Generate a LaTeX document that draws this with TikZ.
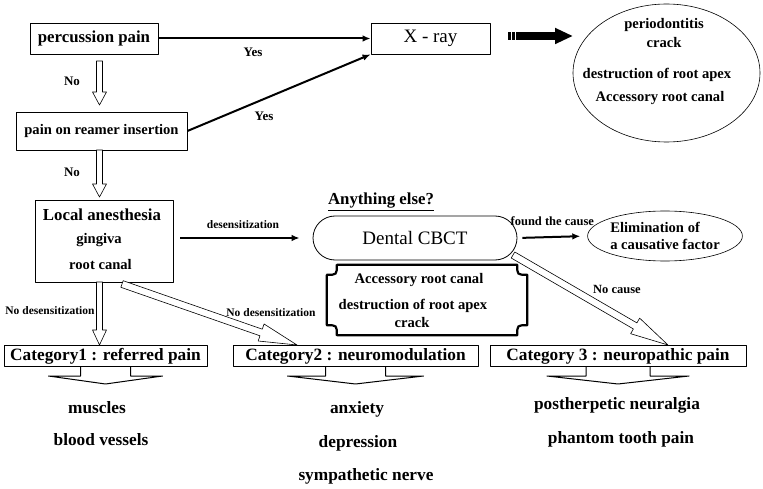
\documentclass[tikz,border=0pt]{standalone}
\usepackage{fontspec}
\setmainfont{Liberation Serif}
\usetikzlibrary{shapes.geometric,arrows.meta,calc}
\begin{document}
\begin{tikzpicture}[x=1pt, y=-1pt, line join=round, >={Latex[length=8pt,width=6.5pt]},
	box/.style={draw, line width=.8pt, inner sep=0pt},
	big/.style={font=\fontsize{16.8}{19}\selectfont\bfseries},
	mid/.style={font=\fontsize{14.6}{17}\selectfont\bfseries},
	lbl/.style={font=\fontsize{13}{15}\selectfont\bfseries},
	tiny/.style={font=\fontsize{11.5}{13}\selectfont\bfseries},
	reg/.style={font=\fontsize{19}{21}\selectfont},
	cat/.style={font=\fontsize{17.3}{19}\selectfont\bfseries},
	arr/.style={->, line width=2pt}]
	\useasboundingbox (0,0) rectangle (763,489);
	% hollow arrow: from, to, shaft half width, head half width, head length
	\def\hollow#1#2#3#4#5{%
		\coordinate (hb) at ($(#2)!#5pt!(#1)$);
		\draw[line width=.6pt, fill=white] ($(#1)!#3pt!90:(#2)$) -- ($(hb)!#3pt!90:(#2)$) -- ($(hb)!#4pt!90:(#2)$) -- (#2)
		-- ($(hb)!#4pt!-90:(#2)$) -- ($(hb)!#3pt!-90:(#2)$) -- ($(#1)!#3pt!-90:(#2)$) -- cycle;}
	% arrow under a category box: node, shaft half width, head half width
	\def\catarrow#1#2#3{%
		\draw[line width=1pt] ($(#1.south)+(-#2,0)$) -- ++(0,9) -- ($(#1.south)+(-#3,9)$) -- ($(#1.south)+(0,17)$)
		-- ($(#1.south)+(#3,9)$) -- ($(#1.south)+(#2,9)$) -- ++(0,-9);}
	\def\r{10}

	% first row
	\node[box, big, minimum width=128pt, minimum height=31pt] (perc) at (94,38.5) {percussion pain};
	\node[box, reg, minimum width=119pt, minimum height=31pt] (xray) at (430.5,38.5) {X - ray};
	\node[draw, ellipse, line width=.6pt, minimum width=187pt, minimum height=138pt] (findings) at (666.5,73) {};
	\node[mid] (f1) at (664,25) {periodontitis};
	\node[mid] (f2) at (664,43) {crack};
	\node[mid] (f3) at (657,75) {destruction of root apex};
	\node[mid] (f4) at (660,98) {Accessory root canal};
	\draw[arr] (perc.east) -- (xray.west);
	\node[lbl] (yes1) at (253,52) {Yes};

	% big dashed arrow
	\coordinate (bs) at ($(xray.east)+(18,-2.5)$);
	\coordinate (be) at (573,36);
	\draw[line width=8pt, dash pattern=on 2.6pt off 1.2pt] (bs) -- ++(10,0);
	\draw[line width=8pt, -{Triangle[length=18pt,width=15pt]}] ($(bs)+(10,0)$) -- (be);

	% second row
	\node[box, mid, minimum width=171pt, minimum height=38pt] (ream) at (101.5,131) {pain on reamer insertion};
	\draw[arr] (ream.east) -- (xray.south west);
	\node[lbl] (yes2) at (264,116) {Yes};
	\coordinate (n1s) at (99.5,61);
	\coordinate (n1e) at (99.5,105);
	\hollow{n1s}{n1e}{3}{7}{13}
	\node[lbl] (no1) at (72,81) {No};

	% local anesthesia
	\node[box, minimum width=138pt, minimum height=82pt] (local) at (104,241) {};
	\node[big] (la) at (102,215) {Local anesthesia};
	\node[mid] (gi) at (99,240) {gingiva};
	\node[mid] (rc) at (100.5,265) {root canal};
	\coordinate (n2s) at (99.5,150);
	\coordinate (n2e) at (99.5,197);
	\hollow{n2s}{n2e}{3}{7}{13}
	\node[lbl] (no2) at (72,172) {No};

	% CBCT
	\node[font=\fontsize{16.8}{19}\selectfont\bfseries] (else) at (381,202) {\underline{Anything else?}};
	\node[box, reg, rounded corners=22pt, minimum width=204pt, minimum height=44pt] (cbct) at (415,238) {Dental CBCT};
	\draw[arr, shorten <=7pt, shorten >=13pt] (local.east |- cbct.west) -- (cbct.west)
		node[tiny, midway, above=5pt] {desensitization};
	\node[draw, ellipse, line width=.6pt, mid, align=left, inner sep=0pt, minimum width=146pt, minimum height=50pt] (elim) at (665,236)
		{Elimination of\\ a causative factor};
	\draw[arr, shorten <=5pt, shorten >=7pt] (cbct.east) -- (elim.west)
		node[font=\fontsize{12.5}{14}\selectfont\bfseries, midway, above=7pt] {found the cause};

	% plaque
	\node[minimum width=200pt, minimum height=70pt] (plaque) at (427,300) {};
	\draw[line width=2.2pt] ($(plaque.north west)+(\r,0)$) -- ($(plaque.north east)+(-\r,0)$)
		.. controls ($(plaque.north east)+(-\r,\r)$) .. ($(plaque.north east)+(0,\r)$)
		-- ($(plaque.south east)+(0,-\r)$)
		.. controls ($(plaque.south east)+(-\r,-\r)$) .. ($(plaque.south east)+(-\r,0)$)
		-- ($(plaque.south west)+(\r,0)$)
		.. controls ($(plaque.south west)+(\r,-\r)$) .. ($(plaque.south west)+(0,-\r)$)
		-- ($(plaque.north west)+(0,\r)$)
		.. controls ($(plaque.north west)+(\r,\r)$) .. ($(plaque.north west)+(\r,0)$) -- cycle;
	\node[mid] (p1) at (419,280) {Accessory root canal};
	\node[mid] (p2) at (413,306) {destruction of root apex};
	\node[mid] (p3) at (412,323) {crack};

	% categories
	\node[box, cat, line width=1pt, minimum width=203pt, minimum height=21pt] (cat1) at (105.5,356) {Category1 : referred pain};
	\node[box, cat, line width=1pt, minimum width=245pt, minimum height=21pt] (cat2) at (355.5,356) {Category2 : neuromodulation};
	\node[box, cat, line width=1pt, minimum width=256pt, minimum height=21pt] (cat3) at (618,356) {Category 3 : neuropathic pain};
	\catarrow{cat1}{25}{57}
	\catarrow{cat2}{30}{68}
	\catarrow{cat3}{32}{71}

	\coordinate (n3s) at (99.5,282);
	\coordinate (n3e) at (99.5,345);
	\hollow{n3s}{n3e}{3}{7}{15}
	\node[tiny] (nd1) at (50,311) {No desensitization};
	\coordinate (n4s) at (122,284);
	\coordinate (n4e) at (297,345);
	\hollow{n4s}{n4e}{3.5}{9}{38}
	\node[tiny] (nd2) at (271,313) {No desensitization};
	\coordinate (n5s) at (513,255);
	\coordinate (n5e) at (668,345);
	\hollow{n5s}{n5e}{3.5}{9}{38}
	\node[font=\fontsize{12.5}{14}\selectfont\bfseries] (nc) at (617,289) {No cause};

	% lists
	\node[cat] (m1) at (97,408) {muscles};
	\node[cat] (m2) at (101,440) {blood vessels};
	\node[cat] (m3) at (357,409) {anxiety};
	\node[cat] (m4) at (358,443) {depression};
	\node[cat] (m5) at (366,476) {sympathetic nerve};
	\node[cat] (m6) at (617,405) {postherpetic neuralgia};
	\node[cat] (m7) at (621,439) {phantom tooth pain};
\end{tikzpicture}
\end{document}
